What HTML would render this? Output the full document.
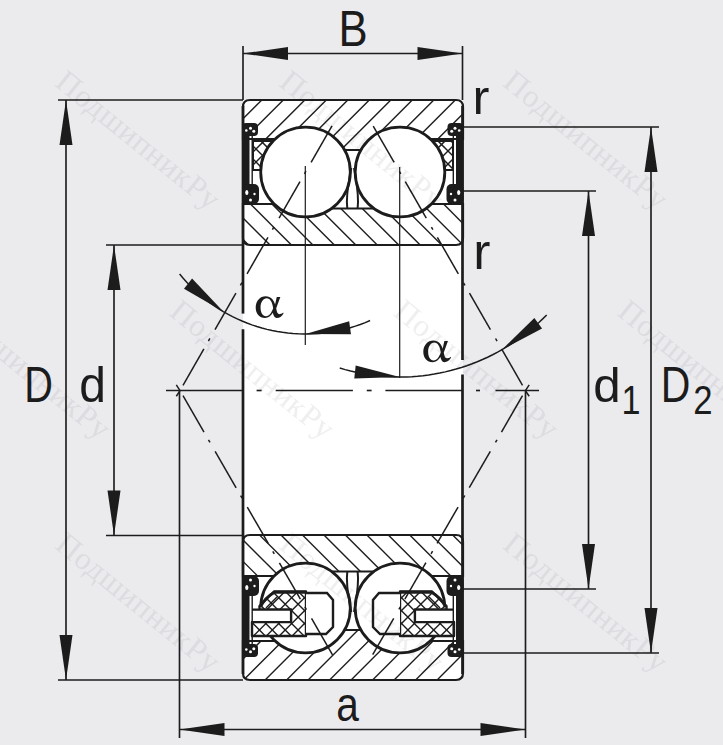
<!DOCTYPE html>
<html><head><meta charset="utf-8"><style>html,body{margin:0;padding:0;background:#ebebee;overflow:hidden}svg{display:block}</style></head>
<body><svg width="723" height="745" viewBox="0 0 723 745"><rect width="723" height="745" fill="#ebebee"/>
<rect x="243" y="100" width="220" height="580" fill="#fff"/>
<defs>
<clipPath id="cot"><path d="M243,107 Q243,100 250,100 H456 Q463,100 463,107 V139 H371.5 V150 H334 V139 H243 Z"/></clipPath>
<clipPath id="cit"><path d="M243,204 H330 V208.5 H375.5 V204 H463 V238 Q463,245 456,245 H250 Q243,245 243,238 Z"/></clipPath>
<clipPath id="cob"><path d="M 243,673 Q 243,680 250,680 H 456 Q 463,680 463,673 V 641 H 371.5 V 630 H 334 V 641 H 243 Z"/></clipPath>
<clipPath id="cib"><path d="M 243,576 H 330 V 571.5 H 375.5 V 576 H 463 V 542 Q 463,535 456,535 H 250 Q 243,535 243,542 Z"/></clipPath>
<clipPath id="ccl"><path d="M252,622 H291 V609.7 H259.5 V606 L274,591.5 H306 V636 H252 Z"/></clipPath>
<clipPath id="ccr"><path d="M 454,622 H 415 V 609.7 H 446.5 V 606 L 432,591.5 H 400 V 636 H 454 Z"/></clipPath>
<clipPath id="cctl"><path d="M253,141 H274 V170 H253 Z"/></clipPath>
<clipPath id="cctr"><path d="M 453,141 H 432 V 170 H 453 Z"/></clipPath>
</defs>
<g clip-path="url(#cot)" stroke="#1c1c1c" stroke-width="1.4"><line x1="250.30" y1="90" x2="80.30" y2="260"/><line x1="271.80" y1="90" x2="101.80" y2="260"/><line x1="293.30" y1="90" x2="123.30" y2="260"/><line x1="314.80" y1="90" x2="144.80" y2="260"/><line x1="336.30" y1="90" x2="166.30" y2="260"/><line x1="357.80" y1="90" x2="187.80" y2="260"/><line x1="379.30" y1="90" x2="209.30" y2="260"/><line x1="400.80" y1="90" x2="230.80" y2="260"/><line x1="422.30" y1="90" x2="252.30" y2="260"/><line x1="443.80" y1="90" x2="273.80" y2="260"/><line x1="465.30" y1="90" x2="295.30" y2="260"/><line x1="486.80" y1="90" x2="316.80" y2="260"/><line x1="508.30" y1="90" x2="338.30" y2="260"/><line x1="529.80" y1="90" x2="359.80" y2="260"/><line x1="551.30" y1="90" x2="381.30" y2="260"/><line x1="572.80" y1="90" x2="402.80" y2="260"/><line x1="594.30" y1="90" x2="424.30" y2="260"/><line x1="615.80" y1="90" x2="445.80" y2="260"/><line x1="637.30" y1="90" x2="467.30" y2="260"/></g>
<g clip-path="url(#cit)" stroke="#1c1c1c" stroke-width="1.4"><line x1="172.06" y1="190" x2="242.06" y2="260"/><line x1="193.52" y1="190" x2="263.52" y2="260"/><line x1="214.98" y1="190" x2="284.98" y2="260"/><line x1="236.44" y1="190" x2="306.44" y2="260"/><line x1="257.90" y1="190" x2="327.90" y2="260"/><line x1="279.36" y1="190" x2="349.36" y2="260"/><line x1="300.82" y1="190" x2="370.82" y2="260"/><line x1="322.28" y1="190" x2="392.28" y2="260"/><line x1="343.74" y1="190" x2="413.74" y2="260"/><line x1="365.20" y1="190" x2="435.20" y2="260"/><line x1="386.66" y1="190" x2="456.66" y2="260"/><line x1="408.12" y1="190" x2="478.12" y2="260"/><line x1="429.58" y1="190" x2="499.58" y2="260"/><line x1="451.04" y1="190" x2="521.04" y2="260"/><line x1="472.50" y1="190" x2="542.50" y2="260"/></g>
<g clip-path="url(#cob)" stroke="#1c1c1c" stroke-width="1.4"><line x1="231.60" y1="520" x2="61.60" y2="690"/><line x1="253.10" y1="520" x2="83.10" y2="690"/><line x1="274.60" y1="520" x2="104.60" y2="690"/><line x1="296.10" y1="520" x2="126.10" y2="690"/><line x1="317.60" y1="520" x2="147.60" y2="690"/><line x1="339.10" y1="520" x2="169.10" y2="690"/><line x1="360.60" y1="520" x2="190.60" y2="690"/><line x1="382.10" y1="520" x2="212.10" y2="690"/><line x1="403.60" y1="520" x2="233.60" y2="690"/><line x1="425.10" y1="520" x2="255.10" y2="690"/><line x1="446.60" y1="520" x2="276.60" y2="690"/><line x1="468.10" y1="520" x2="298.10" y2="690"/><line x1="489.60" y1="520" x2="319.60" y2="690"/><line x1="511.10" y1="520" x2="341.10" y2="690"/><line x1="532.60" y1="520" x2="362.60" y2="690"/><line x1="554.10" y1="520" x2="384.10" y2="690"/><line x1="575.60" y1="520" x2="405.60" y2="690"/><line x1="597.10" y1="520" x2="427.10" y2="690"/><line x1="618.60" y1="520" x2="448.60" y2="690"/><line x1="640.10" y1="520" x2="470.10" y2="690"/></g>
<g clip-path="url(#cib)" stroke="#1c1c1c" stroke-width="1.4"><line x1="180.16" y1="520" x2="250.16" y2="590"/><line x1="201.62" y1="520" x2="271.62" y2="590"/><line x1="223.08" y1="520" x2="293.08" y2="590"/><line x1="244.54" y1="520" x2="314.54" y2="590"/><line x1="266.00" y1="520" x2="336.00" y2="590"/><line x1="287.46" y1="520" x2="357.46" y2="590"/><line x1="308.92" y1="520" x2="378.92" y2="590"/><line x1="330.38" y1="520" x2="400.38" y2="590"/><line x1="351.84" y1="520" x2="421.84" y2="590"/><line x1="373.30" y1="520" x2="443.30" y2="590"/><line x1="394.76" y1="520" x2="464.76" y2="590"/><line x1="416.22" y1="520" x2="486.22" y2="590"/><line x1="437.68" y1="520" x2="507.68" y2="590"/><line x1="459.14" y1="520" x2="529.14" y2="590"/></g>
<path d="M243,107 Q243,100 250,100 H456 Q463,100 463,107 V139 H371.5 V150 H334 V139 H243 Z" fill="none" stroke="#1c1c1c" stroke-width="2.2"/>
<path d="M243,204 H330 V208.5 H375.5 V204 H463 V238 Q463,245 456,245 H250 Q243,245 243,238 Z" fill="none" stroke="#1c1c1c" stroke-width="2.2"/>
<path d="M 243,673 Q 243,680 250,680 H 456 Q 463,680 463,673 V 641 H 371.5 V 630 H 334 V 641 H 243 Z" fill="none" stroke="#1c1c1c" stroke-width="2.2"/>
<path d="M 243,576 H 330 V 571.5 H 375.5 V 576 H 463 V 542 Q 463,535 456,535 H 250 Q 243,535 243,542 Z" fill="none" stroke="#1c1c1c" stroke-width="2.2"/>
<path d="M253,141 H274 V170 H253 Z" fill="#fff"/>
<g clip-path="url(#cctl)" stroke="#1c1c1c" stroke-width="1.5"><line x1="249.00" y1="130" x2="199.00" y2="180"/><line x1="262.00" y1="130" x2="212.00" y2="180"/><line x1="275.00" y1="130" x2="225.00" y2="180"/><line x1="288.00" y1="130" x2="238.00" y2="180"/><line x1="301.00" y1="130" x2="251.00" y2="180"/><line x1="314.00" y1="130" x2="264.00" y2="180"/><line x1="327.00" y1="130" x2="277.00" y2="180"/><line x1="340.00" y1="130" x2="290.00" y2="180"/><line x1="353.00" y1="130" x2="303.00" y2="180"/><line x1="366.00" y1="130" x2="316.00" y2="180"/><line x1="379.00" y1="130" x2="329.00" y2="180"/><line x1="392.00" y1="130" x2="342.00" y2="180"/><line x1="405.00" y1="130" x2="355.00" y2="180"/><line x1="418.00" y1="130" x2="368.00" y2="180"/><line x1="431.00" y1="130" x2="381.00" y2="180"/><line x1="444.00" y1="130" x2="394.00" y2="180"/><line x1="457.00" y1="130" x2="407.00" y2="180"/><line x1="470.00" y1="130" x2="420.00" y2="180"/><line x1="483.00" y1="130" x2="433.00" y2="180"/><line x1="496.00" y1="130" x2="446.00" y2="180"/><line x1="509.00" y1="130" x2="459.00" y2="180"/></g>
<g clip-path="url(#cctl)" stroke="#1c1c1c" stroke-width="1.5"><line x1="198.00" y1="130" x2="248.00" y2="180"/><line x1="211.00" y1="130" x2="261.00" y2="180"/><line x1="224.00" y1="130" x2="274.00" y2="180"/><line x1="237.00" y1="130" x2="287.00" y2="180"/><line x1="250.00" y1="130" x2="300.00" y2="180"/><line x1="263.00" y1="130" x2="313.00" y2="180"/><line x1="276.00" y1="130" x2="326.00" y2="180"/><line x1="289.00" y1="130" x2="339.00" y2="180"/><line x1="302.00" y1="130" x2="352.00" y2="180"/><line x1="315.00" y1="130" x2="365.00" y2="180"/><line x1="328.00" y1="130" x2="378.00" y2="180"/><line x1="341.00" y1="130" x2="391.00" y2="180"/><line x1="354.00" y1="130" x2="404.00" y2="180"/><line x1="367.00" y1="130" x2="417.00" y2="180"/><line x1="380.00" y1="130" x2="430.00" y2="180"/><line x1="393.00" y1="130" x2="443.00" y2="180"/><line x1="406.00" y1="130" x2="456.00" y2="180"/><line x1="419.00" y1="130" x2="469.00" y2="180"/><line x1="432.00" y1="130" x2="482.00" y2="180"/><line x1="445.00" y1="130" x2="495.00" y2="180"/><line x1="458.00" y1="130" x2="508.00" y2="180"/></g>
<path d="M253,141 H274 V170 H253 Z" fill="none" stroke="#1c1c1c" stroke-width="2"/>
<path d="M 453,141 H 432 V 170 H 453 Z" fill="#fff"/>
<g clip-path="url(#cctr)" stroke="#1c1c1c" stroke-width="1.5"><line x1="248.00" y1="130" x2="198.00" y2="180"/><line x1="261.00" y1="130" x2="211.00" y2="180"/><line x1="274.00" y1="130" x2="224.00" y2="180"/><line x1="287.00" y1="130" x2="237.00" y2="180"/><line x1="300.00" y1="130" x2="250.00" y2="180"/><line x1="313.00" y1="130" x2="263.00" y2="180"/><line x1="326.00" y1="130" x2="276.00" y2="180"/><line x1="339.00" y1="130" x2="289.00" y2="180"/><line x1="352.00" y1="130" x2="302.00" y2="180"/><line x1="365.00" y1="130" x2="315.00" y2="180"/><line x1="378.00" y1="130" x2="328.00" y2="180"/><line x1="391.00" y1="130" x2="341.00" y2="180"/><line x1="404.00" y1="130" x2="354.00" y2="180"/><line x1="417.00" y1="130" x2="367.00" y2="180"/><line x1="430.00" y1="130" x2="380.00" y2="180"/><line x1="443.00" y1="130" x2="393.00" y2="180"/><line x1="456.00" y1="130" x2="406.00" y2="180"/><line x1="469.00" y1="130" x2="419.00" y2="180"/><line x1="482.00" y1="130" x2="432.00" y2="180"/><line x1="495.00" y1="130" x2="445.00" y2="180"/><line x1="508.00" y1="130" x2="458.00" y2="180"/></g>
<g clip-path="url(#cctr)" stroke="#1c1c1c" stroke-width="1.5"><line x1="193.00" y1="130" x2="243.00" y2="180"/><line x1="206.00" y1="130" x2="256.00" y2="180"/><line x1="219.00" y1="130" x2="269.00" y2="180"/><line x1="232.00" y1="130" x2="282.00" y2="180"/><line x1="245.00" y1="130" x2="295.00" y2="180"/><line x1="258.00" y1="130" x2="308.00" y2="180"/><line x1="271.00" y1="130" x2="321.00" y2="180"/><line x1="284.00" y1="130" x2="334.00" y2="180"/><line x1="297.00" y1="130" x2="347.00" y2="180"/><line x1="310.00" y1="130" x2="360.00" y2="180"/><line x1="323.00" y1="130" x2="373.00" y2="180"/><line x1="336.00" y1="130" x2="386.00" y2="180"/><line x1="349.00" y1="130" x2="399.00" y2="180"/><line x1="362.00" y1="130" x2="412.00" y2="180"/><line x1="375.00" y1="130" x2="425.00" y2="180"/><line x1="388.00" y1="130" x2="438.00" y2="180"/><line x1="401.00" y1="130" x2="451.00" y2="180"/><line x1="414.00" y1="130" x2="464.00" y2="180"/><line x1="427.00" y1="130" x2="477.00" y2="180"/><line x1="440.00" y1="130" x2="490.00" y2="180"/><line x1="453.00" y1="130" x2="503.00" y2="180"/><line x1="466.00" y1="130" x2="516.00" y2="180"/></g>
<path d="M 453,141 H 432 V 170 H 453 Z" fill="none" stroke="#1c1c1c" stroke-width="2"/>
<circle cx="305.5" cy="172" r="44.8" fill="#fff" stroke="#1c1c1c" stroke-width="2.8"/>
<circle cx="400" cy="172" r="44.8" fill="#fff" stroke="#1c1c1c" stroke-width="2.8"/>
<circle cx="305.5" cy="608" r="44.8" fill="#fff" stroke="#1c1c1c" stroke-width="2.8"/>
<circle cx="400" cy="608" r="44.8" fill="#fff" stroke="#1c1c1c" stroke-width="2.8"/>
<path d="M347.3,571.3 C345.5,585 349,600 351.3,612 M357.6,571.3 C359.5,585 356,600 354,612" fill="none" stroke="#1c1c1c" stroke-width="2"/>
<path d="M347.3,208.7 C345.5,195 349,180 351.3,168 M357.6,208.7 C359.5,195 356,180 354,168" fill="none" stroke="#1c1c1c" stroke-width="2"/>
<path d="M252,622 H291 V609.7 H259.5 V606 L274,591.5 H306 V636 H252 Z" fill="#fff"/>
<g clip-path="url(#ccl)" stroke="#1c1c1c" stroke-width="1.4"><line x1="252.80" y1="585" x2="197.80" y2="640"/><line x1="265.70" y1="585" x2="210.70" y2="640"/><line x1="278.60" y1="585" x2="223.60" y2="640"/><line x1="291.50" y1="585" x2="236.50" y2="640"/><line x1="304.40" y1="585" x2="249.40" y2="640"/><line x1="317.30" y1="585" x2="262.30" y2="640"/><line x1="330.20" y1="585" x2="275.20" y2="640"/><line x1="343.10" y1="585" x2="288.10" y2="640"/><line x1="356.00" y1="585" x2="301.00" y2="640"/><line x1="368.90" y1="585" x2="313.90" y2="640"/><line x1="381.80" y1="585" x2="326.80" y2="640"/><line x1="394.70" y1="585" x2="339.70" y2="640"/><line x1="407.60" y1="585" x2="352.60" y2="640"/><line x1="420.50" y1="585" x2="365.50" y2="640"/><line x1="433.40" y1="585" x2="378.40" y2="640"/><line x1="446.30" y1="585" x2="391.30" y2="640"/><line x1="459.20" y1="585" x2="404.20" y2="640"/><line x1="472.10" y1="585" x2="417.10" y2="640"/><line x1="485.00" y1="585" x2="430.00" y2="640"/><line x1="497.90" y1="585" x2="442.90" y2="640"/><line x1="510.80" y1="585" x2="455.80" y2="640"/><line x1="523.70" y1="585" x2="468.70" y2="640"/></g>
<g clip-path="url(#ccl)" stroke="#1c1c1c" stroke-width="1.4"><line x1="188.60" y1="585" x2="243.60" y2="640"/><line x1="201.50" y1="585" x2="256.50" y2="640"/><line x1="214.40" y1="585" x2="269.40" y2="640"/><line x1="227.30" y1="585" x2="282.30" y2="640"/><line x1="240.20" y1="585" x2="295.20" y2="640"/><line x1="253.10" y1="585" x2="308.10" y2="640"/><line x1="266.00" y1="585" x2="321.00" y2="640"/><line x1="278.90" y1="585" x2="333.90" y2="640"/><line x1="291.80" y1="585" x2="346.80" y2="640"/><line x1="304.70" y1="585" x2="359.70" y2="640"/><line x1="317.60" y1="585" x2="372.60" y2="640"/><line x1="330.50" y1="585" x2="385.50" y2="640"/><line x1="343.40" y1="585" x2="398.40" y2="640"/><line x1="356.30" y1="585" x2="411.30" y2="640"/><line x1="369.20" y1="585" x2="424.20" y2="640"/><line x1="382.10" y1="585" x2="437.10" y2="640"/><line x1="395.00" y1="585" x2="450.00" y2="640"/><line x1="407.90" y1="585" x2="462.90" y2="640"/><line x1="420.80" y1="585" x2="475.80" y2="640"/><line x1="433.70" y1="585" x2="488.70" y2="640"/><line x1="446.60" y1="585" x2="501.60" y2="640"/><line x1="459.50" y1="585" x2="514.50" y2="640"/></g>
<path d="M252,622 H291 V609.7 H259.5 V606 L274,591.5 H306 V636 H252 Z" fill="none" stroke="#1c1c1c" stroke-width="2.4" stroke-linejoin="round"/>
<path d="M 454,622 H 415 V 609.7 H 446.5 V 606 L 432,591.5 H 400 V 636 H 454 Z" fill="#fff"/>
<g clip-path="url(#ccr)" stroke="#1c1c1c" stroke-width="1.4"><line x1="246.50" y1="585" x2="191.50" y2="640"/><line x1="259.40" y1="585" x2="204.40" y2="640"/><line x1="272.30" y1="585" x2="217.30" y2="640"/><line x1="285.20" y1="585" x2="230.20" y2="640"/><line x1="298.10" y1="585" x2="243.10" y2="640"/><line x1="311.00" y1="585" x2="256.00" y2="640"/><line x1="323.90" y1="585" x2="268.90" y2="640"/><line x1="336.80" y1="585" x2="281.80" y2="640"/><line x1="349.70" y1="585" x2="294.70" y2="640"/><line x1="362.60" y1="585" x2="307.60" y2="640"/><line x1="375.50" y1="585" x2="320.50" y2="640"/><line x1="388.40" y1="585" x2="333.40" y2="640"/><line x1="401.30" y1="585" x2="346.30" y2="640"/><line x1="414.20" y1="585" x2="359.20" y2="640"/><line x1="427.10" y1="585" x2="372.10" y2="640"/><line x1="440.00" y1="585" x2="385.00" y2="640"/><line x1="452.90" y1="585" x2="397.90" y2="640"/><line x1="465.80" y1="585" x2="410.80" y2="640"/><line x1="478.70" y1="585" x2="423.70" y2="640"/><line x1="491.60" y1="585" x2="436.60" y2="640"/><line x1="504.50" y1="585" x2="449.50" y2="640"/><line x1="517.40" y1="585" x2="462.40" y2="640"/></g>
<g clip-path="url(#ccr)" stroke="#1c1c1c" stroke-width="1.4"><line x1="195.20" y1="585" x2="250.20" y2="640"/><line x1="208.10" y1="585" x2="263.10" y2="640"/><line x1="221.00" y1="585" x2="276.00" y2="640"/><line x1="233.90" y1="585" x2="288.90" y2="640"/><line x1="246.80" y1="585" x2="301.80" y2="640"/><line x1="259.70" y1="585" x2="314.70" y2="640"/><line x1="272.60" y1="585" x2="327.60" y2="640"/><line x1="285.50" y1="585" x2="340.50" y2="640"/><line x1="298.40" y1="585" x2="353.40" y2="640"/><line x1="311.30" y1="585" x2="366.30" y2="640"/><line x1="324.20" y1="585" x2="379.20" y2="640"/><line x1="337.10" y1="585" x2="392.10" y2="640"/><line x1="350.00" y1="585" x2="405.00" y2="640"/><line x1="362.90" y1="585" x2="417.90" y2="640"/><line x1="375.80" y1="585" x2="430.80" y2="640"/><line x1="388.70" y1="585" x2="443.70" y2="640"/><line x1="401.60" y1="585" x2="456.60" y2="640"/><line x1="414.50" y1="585" x2="469.50" y2="640"/><line x1="427.40" y1="585" x2="482.40" y2="640"/><line x1="440.30" y1="585" x2="495.30" y2="640"/><line x1="453.20" y1="585" x2="508.20" y2="640"/><line x1="466.10" y1="585" x2="521.10" y2="640"/></g>
<path d="M 454,622 H 415 V 609.7 H 446.5 V 606 L 432,591.5 H 400 V 636 H 454 Z" fill="none" stroke="#1c1c1c" stroke-width="2.4" stroke-linejoin="round"/>
<path d="M306,593 H327 L333,600 V627 L326,634 H306 Z" fill="#fff" stroke="none"/>
<path d="M306,593 H327 L333,600 V627 L326,634 H306" fill="none" stroke="#1c1c1c" stroke-width="2.4"/>
<path d="M 400,593 H 379 L 373,600 V 627 L 380,634 H 400 Z" fill="#fff" stroke="none"/>
<path d="M 400,593 H 379 L 373,600 V 627 L 380,634 H 400" fill="none" stroke="#1c1c1c" stroke-width="2.4"/>
<path d="M306,592.2 H274.4 C268,596 263.5,600 260.5,607" fill="none" stroke="#1c1c1c" stroke-width="3"/><path d="M277,597 L266,608" fill="none" stroke="#1c1c1c" stroke-width="1.4"/>
<g transform="translate(706,0) scale(-1,1)"><path d="M306,592.2 H274.4 C268,596 263.5,600 260.5,607" fill="none" stroke="#1c1c1c" stroke-width="3"/><path d="M277,597 L266,608" fill="none" stroke="#1c1c1c" stroke-width="1.4"/></g>
<path d="M252,609.7 H291 V622 H252" fill="#fff" stroke="#1c1c1c" stroke-width="2.2"/>
<path d="M454,609.7 H415 V622 H454" fill="#fff" stroke="#1c1c1c" stroke-width="2.2"/>
<rect x="242" y="124" width="7.5" height="79" fill="#1c1c1c"/><rect x="242" y="123" width="16" height="13" rx="4" fill="#1c1c1c"/><rect x="242" y="184" width="17" height="20" rx="5" fill="#1c1c1c"/><circle cx="250.5" cy="128.3" r="1.5" fill="#fff"/><circle cx="253.8" cy="131.2" r="1.5" fill="#fff"/><circle cx="246.3" cy="130.5" r="1.3" fill="#fff"/><ellipse cx="246.8" cy="192.5" rx="1.6" ry="2.6" fill="#fff"/><circle cx="250.5" cy="200" r="1.5" fill="#fff"/><circle cx="254.5" cy="194" r="1.2" fill="#fff"/><line x1="252.20" y1="136.00" x2="252.20" y2="184.00" stroke="#1c1c1c" stroke-width="1.4" />
<g transform="translate(705.5,0) scale(-1,1)"><rect x="242" y="124" width="7.5" height="79" fill="#1c1c1c"/><rect x="242" y="123" width="16" height="13" rx="4" fill="#1c1c1c"/><rect x="242" y="184" width="17" height="20" rx="5" fill="#1c1c1c"/><circle cx="250.5" cy="128.3" r="1.5" fill="#fff"/><circle cx="253.8" cy="131.2" r="1.5" fill="#fff"/><circle cx="246.3" cy="130.5" r="1.3" fill="#fff"/><ellipse cx="246.8" cy="192.5" rx="1.6" ry="2.6" fill="#fff"/><circle cx="250.5" cy="200" r="1.5" fill="#fff"/><circle cx="254.5" cy="194" r="1.2" fill="#fff"/><line x1="252.20" y1="136.00" x2="252.20" y2="184.00" stroke="#1c1c1c" stroke-width="1.4" /></g>
<g transform="translate(0,780) scale(1,-1)"><rect x="242" y="124" width="7.5" height="79" fill="#1c1c1c"/><rect x="242" y="123" width="16" height="13" rx="4" fill="#1c1c1c"/><rect x="242" y="184" width="17" height="20" rx="5" fill="#1c1c1c"/><circle cx="250.5" cy="128.3" r="1.5" fill="#fff"/><circle cx="253.8" cy="131.2" r="1.5" fill="#fff"/><circle cx="246.3" cy="130.5" r="1.3" fill="#fff"/><ellipse cx="246.8" cy="192.5" rx="1.6" ry="2.6" fill="#fff"/><circle cx="250.5" cy="200" r="1.5" fill="#fff"/><circle cx="254.5" cy="194" r="1.2" fill="#fff"/><line x1="252.20" y1="136.00" x2="252.20" y2="184.00" stroke="#1c1c1c" stroke-width="1.4" /></g>
<g transform="translate(705.5,0) scale(-1,1)"><g transform="translate(0,780) scale(1,-1)"><rect x="242" y="124" width="7.5" height="79" fill="#1c1c1c"/><rect x="242" y="123" width="16" height="13" rx="4" fill="#1c1c1c"/><rect x="242" y="184" width="17" height="20" rx="5" fill="#1c1c1c"/><circle cx="250.5" cy="128.3" r="1.5" fill="#fff"/><circle cx="253.8" cy="131.2" r="1.5" fill="#fff"/><circle cx="246.3" cy="130.5" r="1.3" fill="#fff"/><ellipse cx="246.8" cy="192.5" rx="1.6" ry="2.6" fill="#fff"/><circle cx="250.5" cy="200" r="1.5" fill="#fff"/><circle cx="254.5" cy="194" r="1.2" fill="#fff"/><line x1="252.20" y1="136.00" x2="252.20" y2="184.00" stroke="#1c1c1c" stroke-width="1.4" /></g></g>
<line x1="243.00" y1="46.00" x2="243.00" y2="100.00" stroke="#1c1c1c" stroke-width="1.65" />
<line x1="462.50" y1="46.00" x2="462.50" y2="100.00" stroke="#1c1c1c" stroke-width="1.65" />
<line x1="243.00" y1="106.00" x2="243.00" y2="313.60" stroke="#1c1c1c" stroke-width="2.7" />
<line x1="243.00" y1="329.30" x2="243.00" y2="674.00" stroke="#1c1c1c" stroke-width="2.7" />
<line x1="462.50" y1="106.00" x2="462.50" y2="360.00" stroke="#1c1c1c" stroke-width="2.7" />
<line x1="462.50" y1="374.50" x2="462.50" y2="674.00" stroke="#1c1c1c" stroke-width="2.7" />
<line x1="243.00" y1="53.50" x2="462.50" y2="53.50" stroke="#1c1c1c" stroke-width="1.65" />
<polygon points="243.00,53.50 288.00,60.00 288.00,47.00" fill="#1c1c1c"/>
<polygon points="462.50,53.50 417.50,47.00 417.50,60.00" fill="#1c1c1c"/>
<line x1="58.00" y1="100.00" x2="243.00" y2="100.00" stroke="#1c1c1c" stroke-width="1.65" />
<line x1="58.00" y1="680.00" x2="243.00" y2="680.00" stroke="#1c1c1c" stroke-width="1.65" />
<line x1="66.00" y1="100.00" x2="66.00" y2="680.00" stroke="#1c1c1c" stroke-width="1.65" />
<polygon points="66.00,100.00 59.50,145.00 72.50,145.00" fill="#1c1c1c"/>
<polygon points="66.00,680.00 72.50,635.00 59.50,635.00" fill="#1c1c1c"/>
<line x1="106.00" y1="245.00" x2="243.00" y2="245.00" stroke="#1c1c1c" stroke-width="1.65" />
<line x1="106.00" y1="535.50" x2="243.00" y2="535.50" stroke="#1c1c1c" stroke-width="1.65" />
<line x1="114.00" y1="245.00" x2="114.00" y2="535.50" stroke="#1c1c1c" stroke-width="1.65" />
<polygon points="114.00,245.00 107.50,290.00 120.50,290.00" fill="#1c1c1c"/>
<polygon points="114.00,535.50 120.50,490.50 107.50,490.50" fill="#1c1c1c"/>
<line x1="462.50" y1="191.00" x2="596.00" y2="191.00" stroke="#1c1c1c" stroke-width="1.65" />
<line x1="462.50" y1="589.00" x2="596.00" y2="589.00" stroke="#1c1c1c" stroke-width="1.65" />
<line x1="588.50" y1="191.00" x2="588.50" y2="589.00" stroke="#1c1c1c" stroke-width="1.65" />
<polygon points="588.50,191.00 582.00,236.00 595.00,236.00" fill="#1c1c1c"/>
<polygon points="588.50,589.00 595.00,544.00 582.00,544.00" fill="#1c1c1c"/>
<line x1="462.50" y1="127.00" x2="659.00" y2="127.00" stroke="#1c1c1c" stroke-width="1.65" />
<line x1="462.50" y1="653.00" x2="659.00" y2="653.00" stroke="#1c1c1c" stroke-width="1.65" />
<line x1="651.00" y1="127.00" x2="651.00" y2="653.00" stroke="#1c1c1c" stroke-width="1.65" />
<polygon points="651.00,127.00 644.50,172.00 657.50,172.00" fill="#1c1c1c"/>
<polygon points="651.00,653.00 657.50,608.00 644.50,608.00" fill="#1c1c1c"/>
<line x1="179.50" y1="391.00" x2="179.50" y2="738.00" stroke="#1c1c1c" stroke-width="1.65" />
<line x1="525.50" y1="391.00" x2="525.50" y2="738.00" stroke="#1c1c1c" stroke-width="1.65" />
<line x1="179.50" y1="729.50" x2="525.50" y2="729.50" stroke="#1c1c1c" stroke-width="1.65" />
<polygon points="179.50,729.50 224.50,736.00 224.50,723.00" fill="#1c1c1c"/>
<polygon points="525.50,729.50 480.50,723.00 480.50,736.00" fill="#1c1c1c"/>
<line x1="166.00" y1="390.50" x2="243.00" y2="390.50" stroke="#1c1c1c" stroke-width="1.65" />
<line x1="256.60" y1="390.50" x2="261.60" y2="390.50" stroke="#1c1c1c" stroke-width="1.65" />
<line x1="275.70" y1="390.50" x2="352.90" y2="390.50" stroke="#1c1c1c" stroke-width="1.65" />
<line x1="366.80" y1="390.50" x2="371.60" y2="390.50" stroke="#1c1c1c" stroke-width="1.65" />
<line x1="385.40" y1="390.50" x2="462.00" y2="390.50" stroke="#1c1c1c" stroke-width="1.65" />
<line x1="476.00" y1="390.50" x2="480.00" y2="390.50" stroke="#1c1c1c" stroke-width="1.65" />
<line x1="495.50" y1="390.50" x2="539.00" y2="390.50" stroke="#1c1c1c" stroke-width="1.65" />
<line x1="305.30" y1="166.00" x2="305.30" y2="345.00" stroke="#1c1c1c" stroke-width="1.2" />
<line x1="399.70" y1="167.00" x2="399.70" y2="378.00" stroke="#1c1c1c" stroke-width="1.2" />
<path d="M176.3,384.8 L179.9,390.3 M179.9,391 L176.3,396.2" fill="none" stroke="#1c1c1c" stroke-width="1.5"/>
<path d="M529.2,384.8 L525.6,390.3 M525.6,391 L529.2,396.2" fill="none" stroke="#1c1c1c" stroke-width="1.5"/>
<line x1="182.99" y1="385.30" x2="203.91" y2="348.88" stroke="#1c1c1c" stroke-width="1.5" />
<line x1="208.39" y1="341.07" x2="209.88" y2="338.47" stroke="#1c1c1c" stroke-width="1.5" />
<line x1="215.01" y1="329.54" x2="235.93" y2="293.12" stroke="#1c1c1c" stroke-width="1.5" />
<line x1="240.41" y1="285.32" x2="241.91" y2="282.71" stroke="#1c1c1c" stroke-width="1.5" />
<line x1="247.04" y1="273.78" x2="267.96" y2="237.36" stroke="#1c1c1c" stroke-width="1.5" />
<line x1="272.44" y1="229.56" x2="273.93" y2="226.96" stroke="#1c1c1c" stroke-width="1.5" />
<line x1="279.06" y1="218.03" x2="299.98" y2="181.61" stroke="#1c1c1c" stroke-width="1.5" />
<line x1="304.47" y1="173.80" x2="305.96" y2="171.20" stroke="#1c1c1c" stroke-width="1.5" />
<line x1="311.09" y1="162.27" x2="332.01" y2="125.85" stroke="#1c1c1c" stroke-width="1.5" />
<line x1="522.51" y1="385.30" x2="501.55" y2="348.90" stroke="#1c1c1c" stroke-width="1.5" />
<line x1="497.06" y1="341.10" x2="495.56" y2="338.50" stroke="#1c1c1c" stroke-width="1.5" />
<line x1="490.42" y1="329.58" x2="469.47" y2="293.18" stroke="#1c1c1c" stroke-width="1.5" />
<line x1="464.98" y1="285.38" x2="463.48" y2="282.78" stroke="#1c1c1c" stroke-width="1.5" />
<line x1="458.34" y1="273.85" x2="437.38" y2="237.45" stroke="#1c1c1c" stroke-width="1.5" />
<line x1="432.89" y1="229.65" x2="431.40" y2="227.05" stroke="#1c1c1c" stroke-width="1.5" />
<line x1="426.26" y1="218.13" x2="405.30" y2="181.73" stroke="#1c1c1c" stroke-width="1.5" />
<line x1="400.81" y1="173.93" x2="399.31" y2="171.33" stroke="#1c1c1c" stroke-width="1.5" />
<line x1="394.17" y1="162.40" x2="373.22" y2="126.01" stroke="#1c1c1c" stroke-width="1.5" />
<line x1="183.00" y1="395.70" x2="203.99" y2="432.08" stroke="#1c1c1c" stroke-width="1.5" />
<line x1="208.49" y1="439.87" x2="209.99" y2="442.47" stroke="#1c1c1c" stroke-width="1.5" />
<line x1="215.13" y1="451.39" x2="236.13" y2="487.77" stroke="#1c1c1c" stroke-width="1.5" />
<line x1="240.62" y1="495.56" x2="242.12" y2="498.16" stroke="#1c1c1c" stroke-width="1.5" />
<line x1="247.27" y1="507.08" x2="268.26" y2="543.46" stroke="#1c1c1c" stroke-width="1.5" />
<line x1="272.76" y1="551.26" x2="274.26" y2="553.86" stroke="#1c1c1c" stroke-width="1.5" />
<line x1="279.41" y1="562.78" x2="300.40" y2="599.16" stroke="#1c1c1c" stroke-width="1.5" />
<line x1="304.89" y1="606.95" x2="306.39" y2="609.55" stroke="#1c1c1c" stroke-width="1.5" />
<line x1="311.54" y1="618.47" x2="332.53" y2="654.85" stroke="#1c1c1c" stroke-width="1.5" />
<line x1="522.50" y1="395.69" x2="501.47" y2="432.05" stroke="#1c1c1c" stroke-width="1.5" />
<line x1="496.96" y1="439.84" x2="495.46" y2="442.44" stroke="#1c1c1c" stroke-width="1.5" />
<line x1="490.30" y1="451.35" x2="469.27" y2="487.71" stroke="#1c1c1c" stroke-width="1.5" />
<line x1="464.77" y1="495.50" x2="463.27" y2="498.10" stroke="#1c1c1c" stroke-width="1.5" />
<line x1="458.11" y1="507.01" x2="437.08" y2="543.37" stroke="#1c1c1c" stroke-width="1.5" />
<line x1="432.57" y1="551.16" x2="431.07" y2="553.76" stroke="#1c1c1c" stroke-width="1.5" />
<line x1="425.92" y1="562.67" x2="404.89" y2="599.03" stroke="#1c1c1c" stroke-width="1.5" />
<line x1="400.38" y1="606.82" x2="398.88" y2="609.42" stroke="#1c1c1c" stroke-width="1.5" />
<line x1="393.72" y1="618.34" x2="372.69" y2="654.69" stroke="#1c1c1c" stroke-width="1.5" />
<path d="M179.60,273.95 L182.98,277.99 L186.49,281.91 L190.13,285.72 L193.88,289.41 L197.76,292.98 L201.75,296.42 L205.85,299.72 L210.05,302.89 L214.35,305.93 L218.76,308.82 L223.25,311.57 L227.83,314.17 L232.49,316.61 L237.23,318.91 L242.04,321.05 L246.92,323.04 L251.86,324.86 L256.85,326.52 L261.90,328.02 L266.99,329.36 L272.13,330.53 L277.30,331.53 L282.50,332.36 L287.72,333.02 L292.97,333.51 L298.22,333.84 L303.49,333.99 L308.75,333.97 L314.01,333.78 L319.27,333.41 L324.51,332.88 L329.72,332.18 L334.92,331.31 L340.08,330.27 L345.21,329.06 L350.29,327.69 L355.33,326.15 L360.31,324.45 L365.23,322.58 L370.10,320.56" fill="none" stroke="#1c1c1c" stroke-width="1.5"/>
<polygon points="223.28,311.58 192.08,278.51 184.00,288.69" fill="#1c1c1c"/>
<polygon points="305.50,334.00 350.97,334.21 349.17,321.33" fill="#1c1c1c"/>
<path d="M339.76,368.04 L345.16,369.61 L350.59,371.03 L356.06,372.30 L361.57,373.42 L367.10,374.39 L372.66,375.21 L378.24,375.87 L383.83,376.38 L389.44,376.74 L395.05,376.95 L400.67,377.00 L406.28,376.89 L411.89,376.64 L417.50,376.23 L423.08,375.66 L428.66,374.94 L434.21,374.08 L439.73,373.05 L445.22,371.88 L450.68,370.56 L456.10,369.09 L461.48,367.47 L466.81,365.70 L472.10,363.79 L477.32,361.74 L482.49,359.54 L487.60,357.20 L492.64,354.72 L497.61,352.11 L502.51,349.36 L507.33,346.47 L512.07,343.46 L516.73,340.32 L521.29,337.05 L525.77,333.65 L530.15,330.14 L534.43,326.50 L538.62,322.75 L542.70,318.89 L546.67,314.92" fill="none" stroke="#1c1c1c" stroke-width="1.5"/>
<polygon points="399.70,377.00 355.68,365.61 354.26,378.53" fill="#1c1c1c"/>
<polygon points="501.89,349.71 542.05,328.39 534.37,317.90" fill="#1c1c1c"/>
<text transform="translate(338.49,45.90) scale(0.4376,0.4989)" font-family="Liberation Sans" font-size="100" fill="#1c1c1c">B</text>
<text transform="translate(472.57,113.70) scale(0.5080,0.4837)" font-family="Liberation Sans" font-size="100" fill="#1c1c1c">r</text>
<text transform="translate(473.22,269.00) scale(0.5160,0.4930)" font-family="Liberation Sans" font-size="100" fill="#1c1c1c">r</text>
<text transform="translate(24.13,401.80) scale(0.3966,0.4902)" font-family="Liberation Sans" font-size="100" fill="#1c1c1c">D</text>
<text transform="translate(79.36,401.69) scale(0.4800,0.5075)" font-family="Liberation Sans" font-size="100" fill="#1c1c1c">d</text>
<text transform="translate(593.30,401.91) scale(0.4933,0.4884)" font-family="Liberation Sans" font-size="100" fill="#1c1c1c">d</text>
<text transform="translate(621.43,414.00) scale(0.3422,0.4145)" font-family="Liberation Sans" font-size="100" fill="#1c1c1c">1</text>
<text transform="translate(660.82,402.40) scale(0.4101,0.4916)" font-family="Liberation Sans" font-size="100" fill="#1c1c1c">D</text>
<text transform="translate(693.16,414.00) scale(0.3473,0.4086)" font-family="Liberation Sans" font-size="100" fill="#1c1c1c">2</text>
<text transform="translate(336.28,720.72) scale(0.4059,0.4804)" font-family="Liberation Sans" font-size="100" fill="#1c1c1c">a</text>
<path transform="translate(255.7,296.3) scale(27.7,21.7)" d="M0.36,0 C0.55,0 0.66,0.18 0.70,0.38 L0.76,0.03 L0.89,0.03 L0.74,0.55 C0.76,0.75 0.80,0.84 0.88,0.82 C0.93,0.81 0.97,0.78 1.0,0.75 L1.0,0.80 C0.94,0.92 0.86,1.0 0.76,1.0 C0.68,1.0 0.64,0.88 0.62,0.76 C0.55,0.90 0.46,1.0 0.34,1.0 C0.13,1.0 0,0.80 0,0.52 C0,0.22 0.16,0 0.36,0 Z M0.40,0.095 C0.27,0.095 0.175,0.28 0.175,0.52 C0.175,0.76 0.25,0.92 0.37,0.92 C0.50,0.92 0.58,0.72 0.63,0.55 C0.60,0.27 0.52,0.095 0.40,0.095 Z" fill="#1c1c1c" fill-rule="evenodd"/>
<path transform="translate(423.3,340.4) scale(27.7,21.8)" d="M0.36,0 C0.55,0 0.66,0.18 0.70,0.38 L0.76,0.03 L0.89,0.03 L0.74,0.55 C0.76,0.75 0.80,0.84 0.88,0.82 C0.93,0.81 0.97,0.78 1.0,0.75 L1.0,0.80 C0.94,0.92 0.86,1.0 0.76,1.0 C0.68,1.0 0.64,0.88 0.62,0.76 C0.55,0.90 0.46,1.0 0.34,1.0 C0.13,1.0 0,0.80 0,0.52 C0,0.22 0.16,0 0.36,0 Z M0.40,0.095 C0.27,0.095 0.175,0.28 0.175,0.52 C0.175,0.76 0.25,0.92 0.37,0.92 C0.50,0.92 0.58,0.72 0.63,0.55 C0.60,0.27 0.52,0.095 0.40,0.095 Z" fill="#1c1c1c" fill-rule="evenodd"/>
<g style="mix-blend-mode:multiply">
<text x="53.8" y="85" font-family="Liberation Serif" font-size="31.6" letter-spacing="0.6" fill="#efeff1" transform="rotate(39 53.8 85)">ПодшипникРу</text>
<text x="277.8" y="85" font-family="Liberation Serif" font-size="31.6" letter-spacing="0.6" fill="#efeff1" transform="rotate(39 277.8 85)">ПодшипникРу</text>
<text x="501.5" y="85" font-family="Liberation Serif" font-size="31.6" letter-spacing="0.6" fill="#efeff1" transform="rotate(39 501.5 85)">ПодшипникРу</text>
<text x="-56" y="314.6" font-family="Liberation Serif" font-size="31.6" letter-spacing="0.6" fill="#efeff1" transform="rotate(39 -56 314.6)">ПодшипникРу</text>
<text x="168" y="314.6" font-family="Liberation Serif" font-size="31.6" letter-spacing="0.6" fill="#efeff1" transform="rotate(39 168 314.6)">ПодшипникРу</text>
<text x="392" y="314.6" font-family="Liberation Serif" font-size="31.6" letter-spacing="0.6" fill="#efeff1" transform="rotate(39 392 314.6)">ПодшипникРу</text>
<text x="616" y="314.6" font-family="Liberation Serif" font-size="31.6" letter-spacing="0.6" fill="#efeff1" transform="rotate(39 616 314.6)">ПодшипникРу</text>
<text x="53.8" y="547.5" font-family="Liberation Serif" font-size="31.6" letter-spacing="0.6" fill="#efeff1" transform="rotate(39 53.8 547.5)">ПодшипникРу</text>
<text x="277.8" y="547.5" font-family="Liberation Serif" font-size="31.6" letter-spacing="0.6" fill="#efeff1" transform="rotate(39 277.8 547.5)">ПодшипникРу</text>
<text x="501.5" y="547.5" font-family="Liberation Serif" font-size="31.6" letter-spacing="0.6" fill="#efeff1" transform="rotate(39 501.5 547.5)">ПодшипникРу</text>
</g></svg></body></html>
